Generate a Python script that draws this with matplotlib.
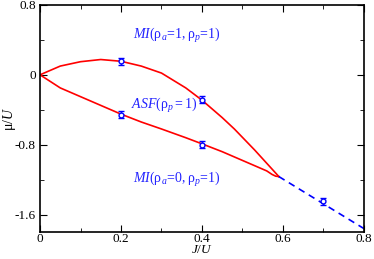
import numpy as np
import matplotlib
matplotlib.use("Agg")
import matplotlib.pyplot as plt
from matplotlib.ticker import MultipleLocator

plt.rcParams["font.family"] = "Liberation Serif"
plt.rcParams["mathtext.fontset"] = "custom"
plt.rcParams["mathtext.rm"] = "Liberation Serif"
plt.rcParams["mathtext.it"] = "Liberation Serif:italic"

# phase boundary, upper branch (MI rho_a=1 / ASF)
upper_J = [0.0, 0.05, 0.10, 0.15, 0.20, 0.25, 0.30, 0.36, 0.40, 0.45, 0.48, 0.53, 0.59]
upper_mu = [0.0, 0.10, 0.15, 0.175, 0.155, 0.10, 0.02, -0.15, -0.29, -0.49, -0.62, -0.86, -1.165]

# lower branch (ASF / MI rho_a=0)
lower_J = [0.0, 0.05, 0.10, 0.15, 0.20, 0.25, 0.30, 0.36, 0.40, 0.45, 0.50, 0.54, 0.56, 0.573, 0.582, 0.59]
lower_mu = [0.0, -0.15, -0.25, -0.35, -0.45, -0.54, -0.62, -0.72, -0.79, -0.88, -0.98, -1.06, -1.10, -1.14, -1.16, -1.165]

# dashed continuation
dash_J = [0.59, 0.8]
dash_mu = [-1.165, -1.76]

# QMC points with error bars
pts_J = [0.2, 0.4, 0.2, 0.4, 0.7]
pts_mu = [0.155, -0.285, -0.455, -0.80, -1.45]
pts_err = [0.04, 0.04, 0.04, 0.04, 0.04]

fig = plt.figure(figsize=(3.74, 2.59), dpi=100)
ax = fig.add_axes([0.107, 0.104, 0.866, 0.877])

red = "#ff0000"
blue = "#0000ff"
ax.plot(upper_J, upper_mu, color=red, lw=1.2)
ax.plot(lower_J, lower_mu, color=red, lw=1.2)
ax.plot(dash_J, dash_mu, color=blue, lw=1.2, ls=(0, (4, 3)))
ax.errorbar(pts_J, pts_mu, yerr=pts_err, fmt="o", ms=3.5, mfc="white", mec=blue,
            ecolor=blue, elinewidth=1, capsize=2.5, mew=1, zorder=5)

tc = "#2222ff"
ax.text(0.23, 0.45, r"$\mathit{MI}(\mathrm{\rho}_{\mathit{a}}\!=\!\mathit{1},\mathrm{\rho}_{\mathit{p}}\!=\!\mathit{1})$",
        color=tc, fontsize=10, va="center")
ax.text(0.225, -0.35, r"$\mathit{ASF}(\mathrm{\rho}_{\mathit{p}}=\mathit{1})$",
        color=tc, fontsize=10, va="center")
ax.text(0.23, -1.20, r"$\mathit{MI}(\mathrm{\rho}_{\mathit{a}}\!=\!\mathit{0},\mathrm{\rho}_{\mathit{p}}\!=\!\mathit{1})$",
        color=tc, fontsize=10, va="center")

ax.set_xlim(0, 0.8)
ax.set_ylim(-1.8, 0.8)
ax.set_xticks([0, 0.2, 0.4, 0.6, 0.8])
ax.set_xticklabels(["0", "0.2", "0.4", "0.6", "0.8"])
ax.set_yticks([0.8, 0, -0.8, -1.6])
ax.set_yticklabels(["0.8", "0", "-0.8", "-1.6"])
ax.xaxis.set_minor_locator(MultipleLocator(0.1))
ax.yaxis.set_minor_locator(MultipleLocator(0.4))
ax.tick_params(which="both", direction="in", top=True, right=True, labelsize=9.5)
ax.tick_params(axis="x", pad=1)
ax.tick_params(axis="y", pad=3)
ax.tick_params(which="major", length=5)
ax.tick_params(which="minor", length=3)
for s in ax.spines.values():
    s.set_linewidth(1.2)

ax.set_xlabel(r"$\mathit{J/U}$", fontsize=9.5, labelpad=-1)
ax.set_ylabel(r"$\mathrm{\mu}/\mathit{U}$", fontsize=10, labelpad=-2)

fig.savefig("out.png", dpi=100)
